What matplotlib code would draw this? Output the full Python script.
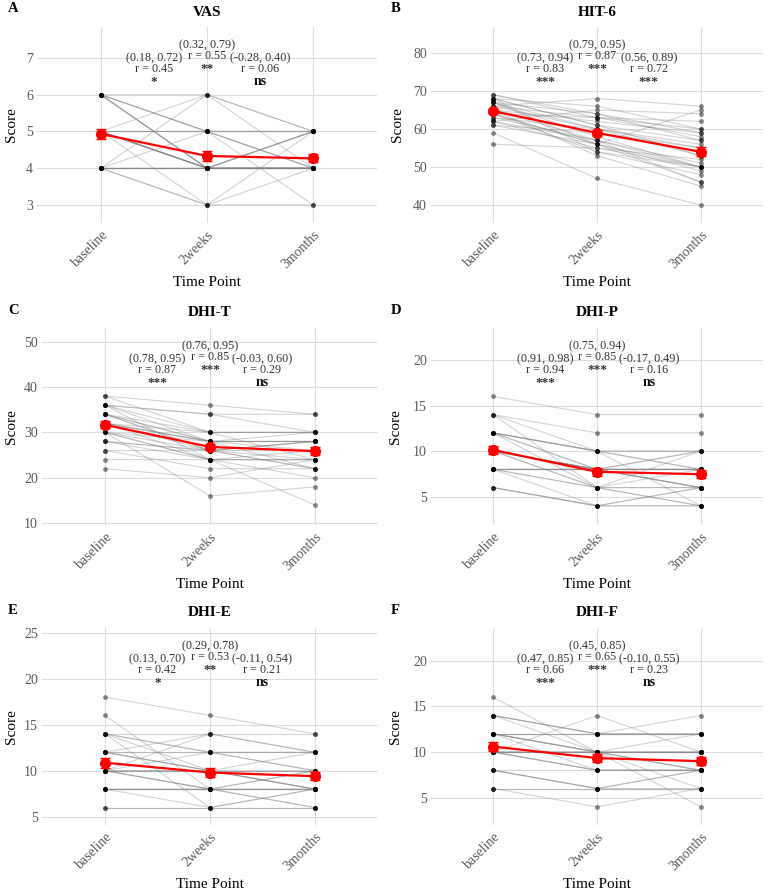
import numpy as np
import matplotlib.pyplot as plt

plt.rcParams['font.family'] = ['Liberation Serif', 'DejaVu Serif']

time_points = ['baseline', '2weeks', '3months']

# per-subject scores (same index = same subject)
vas_baseline = [6, 6, 6, 6, 6, 6, 6, 6, 5, 5, 5, 5, 5, 5, 5, 5, 5, 5, 5, 5, 4, 4, 4, 4, 4, 4, 4, 4, 4, 4]
vas_2weeks = [6, 5, 5, 4, 4, 4, 4, 5, 6, 5, 5, 4, 4, 4, 3, 4, 4, 4, 4, 5, 6, 5, 4, 4, 3, 3, 4, 4, 4, 4]
vas_3months = [5, 4, 4, 4, 4, 5, 4, 5, 4, 5, 3, 4, 4, 5, 4, 4, 4, 4, 5, 5, 5, 4, 4, 4, 5, 3, 4, 5, 4, 4]

hit_baseline = [69, 68, 68, 67, 67, 67, 67, 66, 66, 66, 65, 65, 65, 65, 64, 64, 64, 64, 63, 63, 62, 62, 61, 61, 62, 59, 56, 69, 68, 68]
hit_2weeks = [63, 66, 61, 64, 60, 58, 56, 68, 63, 60, 62, 59, 57, 53, 63, 56, 54, 56, 60, 57, 55, 57, 59, 56, 65, 47, 55, 64, 61, 54]
hit_3months = [58, 60, 57, 59, 55, 50, 46, 66, 60, 53, 59, 54, 50, 45, 62, 49, 48, 65, 56, 51, 50, 46, 55, 50, 64, 40, 52, 57, 53, 50]

dhit_baseline = [38, 38, 36, 36, 36, 36, 34, 34, 34, 34, 32, 32, 32, 32, 32, 32, 30, 30, 30, 30, 30, 28, 28, 28, 26, 26, 24, 22, 36, 34]
dhit_2weeks = [36, 30, 34, 30, 28, 24, 30, 28, 26, 26, 30, 28, 28, 26, 24, 28, 28, 26, 24, 24, 16, 26, 24, 26, 26, 22, 24, 20, 34, 28]
dhit_3months = [34, 24, 34, 30, 28, 14, 30, 28, 24, 22, 30, 28, 26, 28, 24, 22, 28, 26, 24, 20, 18, 28, 24, 22, 28, 22, 26, 24, 30, 30]

dhip_baseline = [16, 14, 14, 14, 12, 12, 12, 12, 12, 12, 10, 10, 10, 10, 10, 10, 10, 10, 8, 8, 8, 8, 8, 6, 6, 12, 8, 8, 6, 8]
dhip_2weeks = [14, 12, 10, 6, 10, 10, 8, 6, 8, 10, 8, 8, 8, 6, 8, 8, 8, 6, 6, 8, 8, 6, 4, 4, 4, 10, 8, 8, 4, 8]
dhip_3months = [14, 12, 8, 4, 10, 8, 8, 8, 10, 4, 8, 6, 6, 10, 8, 6, 10, 4, 6, 6, 8, 6, 6, 4, 6, 10, 8, 8, 4, 8]

dhie_baseline = [18, 16, 14, 14, 14, 14, 12, 12, 12, 12, 10, 10, 10, 10, 10, 10, 10, 8, 8, 8, 8, 6, 6, 12, 10, 14, 8, 12, 8, 10]
dhie_2weeks = [16, 8, 14, 12, 12, 6, 12, 10, 14, 10, 10, 10, 8, 12, 10, 10, 14, 8, 8, 6, 8, 6, 6, 12, 8, 10, 8, 10, 8, 8]
dhie_3months = [14, 6, 14, 12, 10, 8, 12, 8, 12, 8, 10, 8, 6, 10, 10, 8, 12, 8, 8, 8, 8, 6, 6, 12, 10, 10, 10, 12, 8, 8]

dhif_baseline = [16, 14, 14, 14, 12, 12, 12, 12, 12, 10, 10, 10, 10, 10, 10, 10, 8, 8, 8, 8, 6, 6, 12, 10, 12, 10, 10, 14, 6, 12]
dhif_2weeks = [10, 12, 10, 12, 12, 10, 10, 12, 10, 10, 10, 8, 10, 8, 14, 10, 6, 6, 8, 6, 6, 4, 12, 10, 10, 8, 10, 12, 6, 8]
dhif_3months = [6, 12, 8, 14, 12, 10, 8, 12, 10, 10, 10, 8, 12, 8, 10, 4, 6, 8, 8, 8, 6, 6, 12, 10, 10, 8, 8, 12, 6, 8]

# annotation text: baseline-2weeks, baseline-3months, 2weeks-3months
vas_ci = ['(0.18, 0.72)', '(0.32, 0.79)', '(-0.28, 0.40)']
vas_r = ['r = 0.45', 'r = 0.55', 'r = 0.06']
vas_sig = ['*', '**', 'ns']
hit_ci = ['(0.73, 0.94)', '(0.79, 0.95)', '(0.56, 0.89)']
hit_r = ['r = 0.83', 'r = 0.87', 'r = 0.72']
hit_sig = ['***', '***', '***']
dhit_ci = ['(0.78, 0.95)', '(0.76, 0.95)', '(-0.03, 0.60)']
dhit_r = ['r = 0.87', 'r = 0.85', 'r = 0.29']
dhit_sig = ['***', '***', 'ns']
dhip_ci = ['(0.91, 0.98)', '(0.75, 0.94)', '(-0.17, 0.49)']
dhip_r = ['r = 0.94', 'r = 0.85', 'r = 0.16']
dhip_sig = ['***', '***', 'ns']
dhie_ci = ['(0.13, 0.70)', '(0.29, 0.78)', '(-0.11, 0.54)']
dhie_r = ['r = 0.42', 'r = 0.53', 'r = 0.21']
dhie_sig = ['*', '**', 'ns']
dhif_ci = ['(0.47, 0.85)', '(0.45, 0.85)', '(-0.10, 0.55)']
dhif_r = ['r = 0.66', 'r = 0.65', 'r = 0.23']
dhif_sig = ['***', '***', 'ns']

panels = [
    ('A', 'VAS', [vas_baseline, vas_2weeks, vas_3months], vas_ci, vas_r, vas_sig),
    ('B', 'HIT-6', [hit_baseline, hit_2weeks, hit_3months], hit_ci, hit_r, hit_sig),
    ('C', 'DHI-T', [dhit_baseline, dhit_2weeks, dhit_3months], dhit_ci, dhit_r, dhit_sig),
    ('D', 'DHI-P', [dhip_baseline, dhip_2weeks, dhip_3months], dhip_ci, dhip_r, dhip_sig),
    ('E', 'DHI-E', [dhie_baseline, dhie_2weeks, dhie_3months], dhie_ci, dhie_r, dhie_sig),
    ('F', 'DHI-F', [dhif_baseline, dhif_2weeks, dhif_3months], dhif_ci, dhif_r, dhif_sig),
]

# layout: plot boxes in pixels (left, top, right, bottom), y limits, y ticks
W, H = 767, 893
boxes = [(37, 27, 377, 223), (431, 27, 763, 223),
         (42, 328, 378, 525), (431, 328, 763, 525),
         (42, 628, 378, 825), (431, 628, 763, 825)]
ylims = [(2.51, 7.84), (35.3, 86.8), (9.6, 53), (1.9, 23.5), (4.1, 25.5), (2.0, 23.6)]
yticks = [range(3, 8), range(40, 81, 10), range(10, 51, 10), range(5, 21, 5), range(5, 26, 5), range(5, 21, 5)]
panel_left = [0, 383, 0, 383, 0, 383]
score_x = [12, 398, 12, 396, 12, 396]

fig = plt.figure(figsize=(W / 100, H / 100), dpi=100)

for i, (letter, title, scores, ci, rr, sig) in enumerate(panels):
    l, t, r, b = boxes[i]
    ax = fig.add_axes([l / W, 1 - b / H, (r - l) / W, (b - t) / H])
    x = np.arange(1, 4)
    data = np.array(scores, dtype=float)

    # individual subjects
    for s in range(data.shape[1]):
        ax.plot(x, data[:, s], color='grey', alpha=0.35, lw=0.8, zorder=2)
        ax.plot(x, data[:, s], 'o', color='black', alpha=0.45, ms=3.5, mew=0, zorder=3)

    means = data.mean(axis=1)
    se = data.std(axis=1, ddof=1) / np.sqrt(data.shape[1])
    ax.errorbar(x, means, yerr=se, color='red', lw=1.6, marker='o', ms=7,
                capsize=3.8, capthick=1.0, elinewidth=1.0, zorder=5)

    # effect size annotations
    xs = [1.5, 2.0, 2.5]
    tr = ax.get_xaxis_transform()
    for j in range(3):
        y0 = 0.842 + (0.066 if j == 1 else 0)
        ax.text(xs[j], y0, ci[j], transform=tr, ha='center', va='center', fontsize=8.7, color='#333333')
        ax.text(xs[j], y0 - 0.056, rr[j], transform=tr, ha='center', va='center', fontsize=8.7, color='#333333')
        if sig[j] == 'ns':
            ax.text(xs[j], y0 - 0.118, sig[j], transform=tr, ha='center', va='center', fontsize=10,
                    fontweight='bold', color='#111111')
        else:
            ax.text(xs[j], y0 - 0.122, sig[j], transform=tr, ha='center', va='center', fontsize=9.5,
                    fontweight='bold', color='#333333')

    ax.set_xlim(0.4, 3.6)
    ax.set_ylim(*ylims[i])
    ax.set_xticks(x)
    ax.set_xticklabels(time_points, rotation=45, ha='right', va='top', rotation_mode='anchor')
    ax.set_yticks(list(yticks[i]))
    ax.tick_params(length=0, labelsize=10, labelcolor='#5a5a5a', pad=3)
    ax.tick_params(axis='x', pad=4)
    ax.grid(True, color='#dcdcdc', lw=0.8)
    ax.set_axisbelow(True)
    for sp in ax.spines.values():
        sp.set_visible(False)

    cx = (l + r) / 2
    fig.text(cx / W, 1 - (t - 15) / H, title, ha='center', va='center', fontsize=11, fontweight='bold')
    fig.text((panel_left[i] + 8) / W, 1 - (t - 18) / H, letter, ha='left', va='center', fontsize=10.5, fontweight='bold')
    fig.text(score_x[i] / W, 1 - (t + b) / 2 / H, 'Score', rotation=90, ha='center', va='center', fontsize=11)
    fig.text(cx / W, 1 - (b + 60) / H, 'Time Point', ha='center', va='center', fontsize=11)

fig.savefig('out.png', dpi=100)
